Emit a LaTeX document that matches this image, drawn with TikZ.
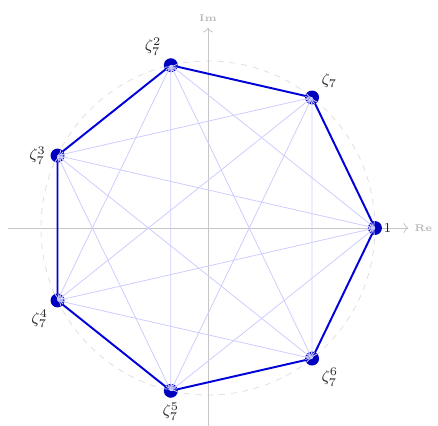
\documentclass[tikz,border=0pt]{standalone}
\usepackage{amsmath,amssymb}
\usepackage{xcolor}
\usepackage{tikz}
\usetikzlibrary{%
  arrows.meta,
  positioning,
  calc}
\tikzset{
  %% Axes of the complex plane
  axisline/.style={->, gray!45, thin},
  axislabel/.style={font=\tiny\bfseries, text=gray!55, inner sep=1pt},
  %% Unit circle
  unitcircle/.style={dashed, gray!25, thin},
  %% Roots of unity
  rootdot/.style={
    circle, fill=blue!75!black,
    inner sep=0pt, minimum size=0.25cm},
  rootlabel/.style={font=\footnotesize, text=black!85, inner sep=2pt},
  %% Heptagon edges and diagonals
  polyedge/.style={line width=1pt, blue!85!black},
  chord/.style={->, blue!20, thin},
}

\begin{document}
\begin{tikzpicture}

  \useasboundingbox (-3.736,-3.539) rectangle (4.132,4.096);

  %% Unit circle and axes
  \draw[unitcircle] (0,0) circle (3);

  \coordinate (xl) at (-3.6,0);
  \coordinate (xr) at (3.6,0);
  \coordinate (yb) at (0,-3.6);
  \coordinate (yt) at (0,3.6);

  \draw[axisline] (xl) -- (xr);
  \draw[axisline] (yb) -- (yt);
  \node[axislabel, right=2pt of xr] (re) {Re};
  \node[axislabel, above=2pt of yt] (im) {Im};

  %% Vertices
  \foreach \k in {0,...,6}
    \coordinate (v\k) at ({360*\k/7}:3);

  %% Heptagon
  \draw[polyedge] (v0) -- (v1) -- (v2) -- (v3) -- (v4) -- (v5) -- (v6) -- cycle;

  %% Dots with labels
  \node[rootdot, label={[rootlabel, font=\scriptsize, inner sep=0.5pt]right:$1$}] (d0) at (v0) {};
  \foreach \k/\pos/\txt in {%
      1/above right/\zeta_7,
      2/above left/\zeta_7^2,
      3/left/\zeta_7^3,
      4/below left/\zeta_7^4,
      5/below/\zeta_7^5,
      6/below right/\zeta_7^6}
    \node[rootdot, label={[rootlabel]\pos:$\txt$}] (d\k) at (v\k) {};

  %% Diagonals (non-adjacent pairs)
  \foreach \i/\j in {0/2,0/3,0/4,0/5,1/3,1/4,1/5,1/6,2/4,2/5,2/6,3/5,3/6,4/6}
    \draw[chord, <->] (v\i) -- (v\j);

\end{tikzpicture}
\end{document}
